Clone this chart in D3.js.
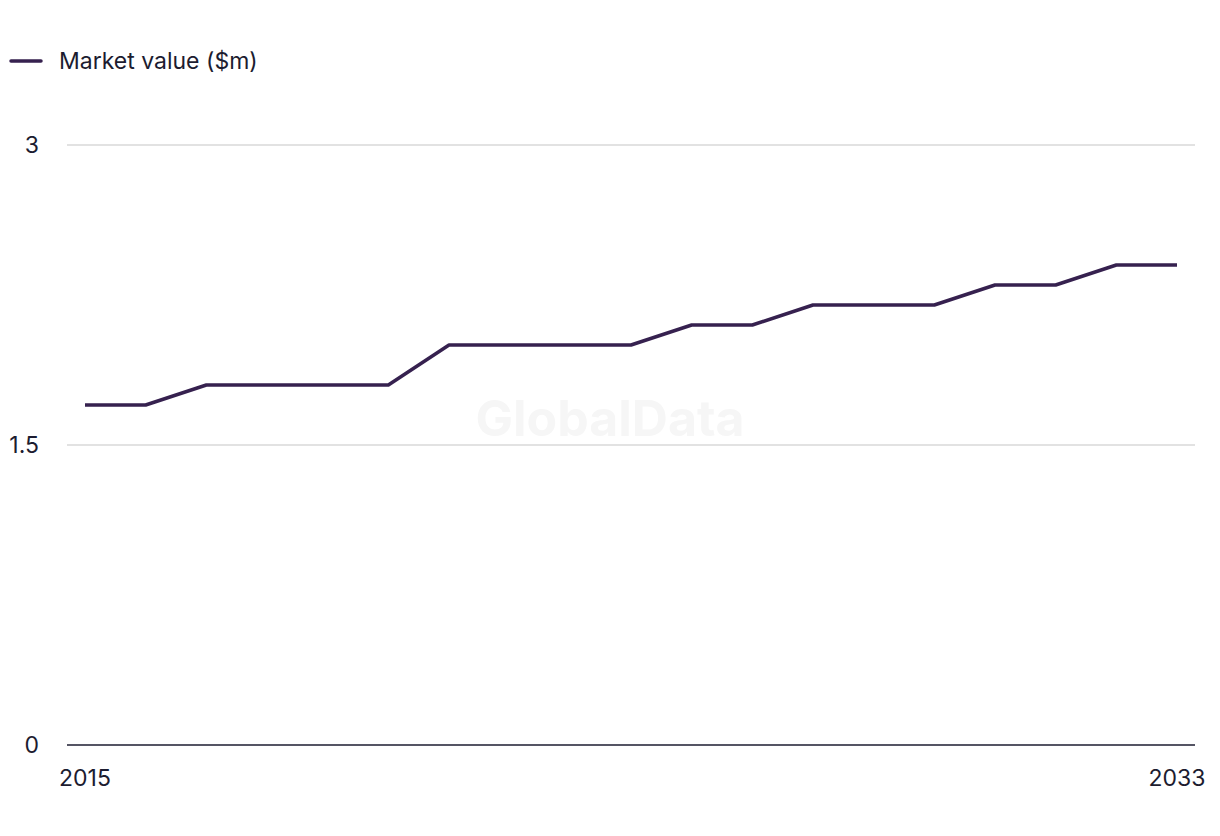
<!DOCTYPE html>
<html>
<head>
<meta charset="utf-8">
<script src="https://cdn.jsdelivr.net/npm/d3@7"></script>
<style>
  body { margin: 0; background: #fff; }
  svg { display: block; font-family: "Inter", "Liberation Sans", sans-serif; }
</style>
</head>
<body>
<div id="chart"></div>
<script>
// market value by year
const years = [2015, 2016, 2017, 2018, 2019, 2020, 2021, 2022, 2023, 2024, 2025, 2026, 2027, 2028, 2029, 2030, 2031, 2032, 2033]
const values = [1.7, 1.7, 1.8, 1.8, 1.8, 1.8, 2.0, 2.0, 2.0, 2.0, 2.1, 2.1, 2.2, 2.2, 2.2, 2.3, 2.3, 2.4, 2.4]
const yTicks = [0, 1.5, 3]
const xTicks = [2015, 2033]
const seriesName = "Market value ($m)"

const width = 1220, height = 836
const lineColor = "#36214f"
const textColor = "#1c1c30"
const fontSize = 23

const x = d3.scaleLinear().domain([2015, 2033]).range([85, 1177])
const y = d3.scaleLinear().domain([0, 3]).range([745, 145])

const svg = d3.select("#chart").append("svg")
    .attr("width", width)
    .attr("height", height)

// watermark
svg.append("text")
    .attr("x", 610)
    .attr("y", 436)
    .attr("text-anchor", "middle")
    .attr("font-size", 50)
    .attr("font-weight", "bold")
    .attr("fill", "#f6f6f6")
    .text("GlobalData")

// grid
svg.append("g")
    .selectAll("line")
    .data(yTicks.filter(d => d > 0))
    .join("line")
    .attr("x1", 67)
    .attr("x2", 1195)
    .attr("y1", d => y(d))
    .attr("y2", d => y(d))
    .attr("stroke", "#d9d9d9")
    .attr("stroke-width", 1.5)

svg.append("line")
    .attr("x1", 67)
    .attr("x2", 1195)
    .attr("y1", y(0))
    .attr("y2", y(0))
    .attr("stroke", "#1c1c30")
    .attr("stroke-width", 1.5)

// y labels
svg.append("g")
    .selectAll("text")
    .data(yTicks)
    .join("text")
    .attr("x", 39)
    .attr("y", d => y(d) + 8)
    .attr("text-anchor", "end")
    .attr("font-size", fontSize)
    .attr("fill", textColor)
    .text(d => d)

// x labels
svg.append("g")
    .selectAll("text")
    .data(xTicks)
    .join("text")
    .attr("x", d => x(d))
    .attr("y", 786)
    .attr("text-anchor", "middle")
    .attr("font-size", fontSize)
    .attr("fill", textColor)
    .text(d => d)

// line
const line = d3.line()
    .x((d, i) => x(years[i]))
    .y(d => y(d))

svg.append("path")
    .datum(values)
    .attr("fill", "none")
    .attr("stroke", lineColor)
    .attr("stroke-width", 3.5)
    .attr("stroke-linejoin", "round")
    .attr("d", line)

// legend
svg.append("line")
    .attr("x1", 11)
    .attr("x2", 41)
    .attr("y1", 61)
    .attr("y2", 61)
    .attr("stroke", lineColor)
    .attr("stroke-width", 3.5)
    .attr("stroke-linecap", "round")

svg.append("text")
    .attr("x", 59)
    .attr("y", 69)
    .attr("font-size", fontSize)
    .attr("fill", textColor)
    .text(seriesName)
</script>
</body>
</html>
